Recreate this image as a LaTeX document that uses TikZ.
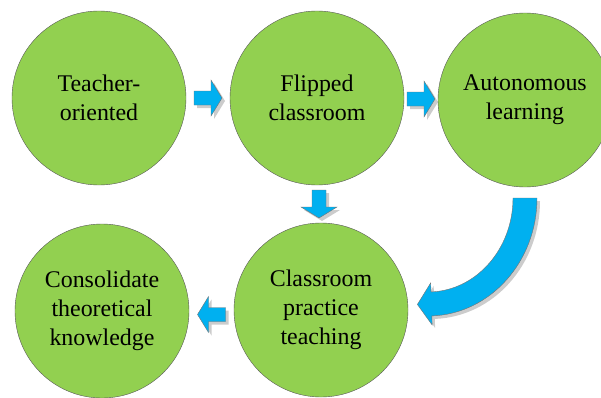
\documentclass[tikz,border=0pt]{standalone}
\usepackage{fontspec}
\setmainfont{Liberation Serif}
\newfontfamily\stagefont{Liberation Serif}
\usetikzlibrary{calc}
\usetikzlibrary{shadows}

\definecolor{nodegreen}{RGB}{146,208,80}
\definecolor{arrowblue}{RGB}{0,176,240}

\tikzset{
  stage/.style={circle, fill=nodegreen, draw=black!65, line width=0.4pt,
    minimum size=174bp, inner sep=0pt, align=center,
    font=\stagefont\fontsize{24}{29}\selectfont},
  arrowbody/.style={fill=arrowblue, draw=black!55, line width=0.4pt,
    drop shadow={shadow xshift=3bp, shadow yshift=-3bp, opacity=0.2, fill=black}},
  pics/blockarrow/.style={code={
    \path[arrowbody] (-14,-7) -- (3,-7) -- (3,-18) -- (14,0) -- (3,18) --
      (3,7) -- (-14,7) -- cycle;
  }}
}

\begin{document}
\begin{tikzpicture}[x=1bp, y=1bp]
          \useasboundingbox (0, 0) rectangle (601, 397);

          % Stages
          \node [stage] (c1) at (99, 299) {Teacher-\\oriented};
          \node [stage] (c2) at (317, 299) {Flipped\\classroom};
          \node [stage] (c3) at (525, 297) {Autonomous\\learning};
          \node [stage] (c4) at (102, 86) {Consolidate\\theoretical\\knowledge};
          \node [stage] (c5) at (321, 87) {Classroom\\practice\\teaching};

          % Straight arrows
          \pic at ($(c1.east)!0.5!(c2.west)$) {blockarrow};
          \pic at ($(c2.east)!0.5!(c3.west)$) {blockarrow};
          \pic [rotate=-90] at ($(c2.south)!0.5!(c5.north)$) {blockarrow};
          \pic [rotate=180] at ($(c5.west)!0.5!(c4.east) + (0, -4)$) {blockarrow};

          % Curved arrow
          \coordinate (bend) at (428, 199);
          \path [arrowbody] ($(bend) + (0:109 and 118)$)
            arc [start angle=0, end angle=-88, x radius=109, y radius=118] --
            ($(bend) + (-88:118 and 127)$) -- ($(bend) + (-88:97 and 106) + (-14, -0.5)$) --
            ($(bend) + (-88:76 and 85)$) -- ($(bend) + (-88:85 and 94)$)
            arc [start angle=-88, end angle=0, x radius=85, y radius=94] -- cycle;
        \end{tikzpicture}
\end{document}
